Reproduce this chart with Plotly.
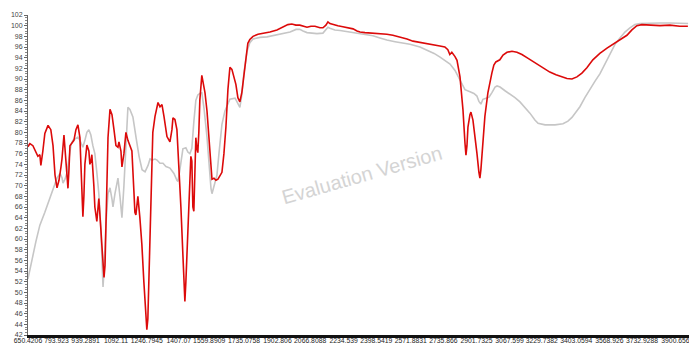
import plotly.graph_objects as go

# Sample spectrum (red), transmittance % vs wavenumber (cm-1)
sample_wn = [650, 660, 675, 690, 700, 710, 715, 725, 735, 751, 765, 776, 786, 796, 806, 816, 821, 831, 836, 841,
             846, 851, 856, 861, 871, 881, 891, 901, 911, 916, 921, 926, 931, 936, 946, 956, 961, 966, 971, 976,
             981, 986, 996, 1006, 1011, 1016, 1021, 1032, 1037, 1042, 1047, 1052, 1062, 1072, 1082, 1092, 1102,
             1107, 1117, 1122, 1132, 1142, 1152, 1162, 1172, 1182, 1187, 1192, 1202, 1212, 1222, 1232, 1242, 1247,
             1252, 1262, 1272, 1277, 1288, 1303, 1313, 1323, 1333, 1348, 1363, 1373, 1378, 1388, 1398, 1408, 1418,
             1428, 1438, 1443, 1453, 1458, 1463, 1468, 1473, 1478, 1483, 1488, 1493, 1498, 1503, 1508, 1513, 1523,
             1534, 1539, 1549, 1554, 1564, 1574, 1584, 1594, 1604, 1614, 1624, 1634, 1644, 1654, 1664, 1674, 1684,
             1694, 1704, 1714, 1724, 1734, 1744, 1754, 1764, 1780, 1805, 1840, 1865, 1900, 1930, 1955, 1975, 1995,
             2015, 2036, 2051, 2071, 2091, 2116, 2131, 2146, 2156, 2166, 2181, 2206, 2231, 2256, 2282, 2302, 2317,
             2342, 2382, 2417, 2452, 2482, 2517, 2553, 2583, 2618, 2653, 2683, 2718, 2743, 2758, 2768, 2778, 2794,
             2804, 2819, 2834, 2844, 2849, 2854, 2859, 2869, 2874, 2884, 2894, 2904, 2914, 2919, 2924, 2934, 2944,
             2959, 2969, 2979, 2989, 2999, 3019, 3035, 3055, 3080, 3105, 3130, 3155, 3180, 3210, 3245, 3270, 3301,
             3331, 3356, 3381, 3406, 3431, 3456, 3486, 3521, 3557, 3582, 3607, 3632, 3657, 3682, 3707, 3732, 3772,
             3823, 3873, 3923, 3963]
sample_t = [77.3, 77.9, 77.5, 76.3, 75.5, 75.8, 73.8, 76.5, 79.8, 81.3, 80.5, 77.5, 72.0, 69.6, 71.0, 73.5, 75.0,
            79.5, 77.0, 74.0, 72.0, 69.5, 73.0, 77.5, 78.0, 78.5, 80.5, 81.4, 79.0, 74.0, 66.0, 64.2, 68.0, 74.0,
            77.6, 76.5, 74.0, 74.5, 75.8, 73.5, 70.0, 66.0, 63.3, 67.6, 65.5, 62.0, 59.0, 52.8, 55.0, 62.0, 72.0,
            79.0, 84.3, 83.3, 80.5, 77.5, 77.2, 78.2, 76.5, 73.5, 76.0, 80.0, 78.5, 77.6, 76.5, 69.0, 65.0, 64.5,
            68.0, 64.0, 59.0, 52.0, 45.0, 43.0, 45.0, 60.0, 75.0, 80.0, 83.0, 85.6, 84.8, 85.2, 83.0, 79.2, 78.2,
            80.5, 82.7, 82.4, 80.5, 74.0, 66.0, 57.0, 48.3, 52.0, 62.0, 67.0, 72.0, 75.5, 74.6, 66.0, 65.2, 76.0,
            79.0, 77.0, 76.2, 80.0, 86.0, 90.7, 88.8, 87.4, 84.0, 81.0, 75.0, 71.2, 71.4, 71.0, 71.2, 71.8, 72.5,
            76.0, 81.0, 88.0, 92.2, 91.8, 90.6, 89.0, 86.5, 85.7, 87.5, 91.0, 94.5, 96.7, 97.4, 98.0, 98.4, 98.6,
            98.8, 99.2, 99.7, 100.2, 100.3, 100.1, 100.1, 99.9, 99.7, 99.9, 99.9, 99.6, 99.6, 100.1, 100.7, 100.4,
            100.3, 100.0, 99.8, 99.6, 99.4, 99.0, 98.8, 98.7, 98.6, 98.5, 98.4, 98.2, 97.9, 97.5, 97.1, 96.9, 96.6,
            96.5, 96.2, 96.0, 95.5, 94.6, 95.0, 94.2, 93.5, 90.4, 84.2, 78.0, 75.7, 77.5, 81.0, 83.3, 83.8, 82.3,
            79.5, 76.1, 72.5, 71.4, 73.0, 78.0, 83.0, 87.4, 89.5, 91.1, 92.6, 93.2, 93.6, 94.5, 95.0, 95.2, 95.0,
            94.6, 94.0, 93.4, 92.6, 91.9, 91.3, 90.8, 90.4, 90.1, 90.0, 90.4, 91.1, 92.1, 93.6, 94.8, 95.8, 96.4,
            97.0, 97.6, 98.2, 99.2, 100.0, 100.2, 100.1, 100.0, 100.1, 99.9, 99.9]

# Reference spectrum (grey)
ref_wn = [650, 660, 670, 690, 710, 735, 760, 776, 786, 796, 811, 821, 826, 836, 846, 856, 866, 876, 891, 901, 911,
          926, 936, 946, 956, 966, 976, 986, 996, 1006, 1016, 1021, 1027, 1032, 1042, 1052, 1062, 1072, 1077, 1087,
          1097, 1102, 1112, 1122, 1132, 1142, 1152, 1162, 1177, 1193, 1208, 1223, 1238, 1253, 1263, 1273, 1288,
          1298, 1313, 1328, 1343, 1363, 1383, 1398, 1403, 1413, 1428, 1443, 1453, 1463, 1473, 1483, 1493, 1503,
          1513, 1523, 1534, 1549, 1559, 1569, 1574, 1584, 1599, 1609, 1624, 1639, 1664, 1690, 1704, 1714, 1724,
          1734, 1750, 1764, 1780, 1815, 1850, 1890, 1930, 1966, 1996, 2015, 2031, 2051, 2076, 2101, 2131, 2146,
          2156, 2166, 2191, 2217, 2252, 2282, 2317, 2352, 2382, 2417, 2452, 2493, 2533, 2568, 2618, 2653, 2689,
          2719, 2744, 2769, 2794, 2819, 2844, 2869, 2889, 2904, 2914, 2924, 2934, 2950, 2965, 2980, 2995, 3005,
          3020, 3045, 3070, 3095, 3120, 3145, 3170, 3195, 3211, 3246, 3296, 3336, 3361, 3381, 3401, 3421, 3446,
          3472, 3497, 3522, 3547, 3572, 3597, 3622, 3647, 3672, 3697, 3723, 3773, 3823, 3873, 3923, 3964]
ref_t = [52.5, 54.0, 56.0, 59.5, 62.6, 65.0, 67.5, 69.3, 70.5, 71.4, 72.3, 71.5, 70.5, 71.2, 72.4, 75.5, 77.6, 78.5,
         78.8, 79.1, 78.5, 77.2, 78.5, 80.0, 80.5, 79.5, 77.5, 76.0, 72.5, 68.5, 62.0, 56.0, 51.0, 54.0, 63.0, 68.5,
         69.6, 67.5, 66.0, 68.5, 71.0, 71.4, 68.0, 64.0, 70.0, 79.0, 84.7, 84.3, 82.9, 79.0, 75.5, 73.0, 72.6, 73.8,
         75.0, 74.8, 75.0, 74.8, 74.2, 74.2, 73.6, 73.3, 72.3, 71.0, 70.8, 73.0, 76.9, 77.1, 76.3, 76.0, 77.0, 82.0,
         86.0, 87.0, 87.3, 87.4, 84.5, 79.1, 74.0, 69.5, 68.5, 70.0, 72.0, 76.0, 81.5, 84.0, 86.2, 86.4, 85.5, 84.7,
         87.0, 91.0, 95.2, 96.8, 97.5, 97.8, 97.9, 98.2, 98.5, 98.8, 99.3, 99.3, 99.0, 98.7, 98.6, 98.5, 98.6, 99.2,
         99.7, 99.5, 99.2, 99.1, 98.9, 98.7, 98.5, 98.3, 98.1, 97.7, 97.3, 97.0, 96.8, 96.5, 96.0, 95.4, 94.8, 94.1,
         93.5, 92.8, 91.6, 89.8, 88.0, 87.6, 87.3, 86.8, 85.8, 85.3, 86.2, 86.4, 86.6, 87.5, 88.5, 88.7, 88.5, 87.8,
         87.2, 86.5, 85.7, 84.7, 83.6, 82.3, 81.7, 81.4, 81.4, 81.6, 82.1, 82.8, 83.8, 84.8, 86.5, 88.2, 89.6, 91.0,
         92.8, 94.8, 96.5, 97.7, 98.8, 99.6, 100.2, 100.4, 100.5, 100.5, 100.5, 100.4, 100.4]

x_tick_vals = [650.4206, 793.923, 939.2891, 1092.11, 1246.7945, 1407.07, 1559.8909, 1735.0758, 1902.806,
               2066.8088, 2234.539, 2398.5419, 2571.8831, 2735.866, 2901.7325, 3067.599, 3229.7382, 3403.0594,
               3568.926, 3732.9288, 3900.656]
x_tick_text = ["650.4206", "793.923", "939.2891", "1092.11", "1246.7945", "1407.07", "1559.8909", "1735.0758",
               "1902.806", "2066.8088", "2234.539", "2398.5419", "2571.8831", "2735.866", "2901.7325", "3067.599",
               "3229.7382", "3403.0594", "3568.926", "3732.9288", "3900.656"]

fig = go.Figure()
fig.add_trace(go.Scatter(x=ref_wn, y=ref_t, mode="lines",
                         line=dict(color="#c6c6c6", width=1.6), hoverinfo="skip"))
fig.add_trace(go.Scatter(x=sample_wn, y=sample_t, mode="lines",
                         line=dict(color="#dc0a0a", width=1.6), hoverinfo="skip"))

# watermark, positioned in paper coordinates
fig.add_annotation(text="Evaluation Version", x=(362 - 28) / 661, y=(335 - 175) / 320,
                   xref="paper", yref="paper", showarrow=False, textangle=-16,
                   font=dict(family="Liberation Sans", size=20, color="#d4d4d4"))

fig.update_layout(
    width=689, height=345,
    margin=dict(l=28, r=0, t=15, b=10),
    paper_bgcolor="white", plot_bgcolor="white",
    showlegend=False,
    font=dict(family="Liberation Sans", size=8, color="#333"),
)
fig.update_xaxes(
    range=[650.42, 650.42 + 661 * 5.02],
    tickmode="array", tickvals=x_tick_vals, ticktext=x_tick_text,
    ticks="", showgrid=False, zeroline=False, tickangle=0,
    showline=True, linecolor="#111", linewidth=3,
    tickfont=dict(size=6.8, color="#222"), automargin=False,
    ticklabelstandoff=-3, ticklabeloverflow="allow",
)
fig.update_yaxes(
    range=[42, 102], dtick=2, tick0=42,
    ticks="outside", ticklen=3, tickcolor="#666",
    minor=dict(dtick=0.5, ticks="outside", ticklen=2, tickcolor="#888"),
    showgrid=False, zeroline=False,
    showline=True, linecolor="#666", linewidth=1,
    tickfont=dict(size=7, color="#444"), automargin=False,
)

fig.write_html("out.html")
